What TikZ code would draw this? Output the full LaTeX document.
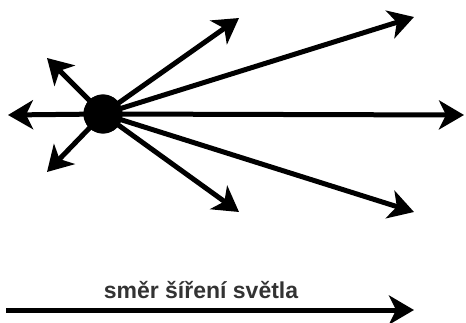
\documentclass[tikz,border=0pt]{standalone}
\usepackage{fontspec}
\setmainfont{Liberation Sans}
\usetikzlibrary{arrows.meta}
\definecolor{txtgray}{HTML}{333333}
\begin{document}
\begin{tikzpicture}[x=1pt,y=1pt,
  ray/.style={line width=5pt,-{Stealth[length=25pt,width=29pt,inset=7pt]}},
  dot/.style={circle,fill=black,inner sep=0pt,minimum size=39pt}]
\useasboundingbox (0,0) rectangle (466,322);
\node[dot] (c) at (103,208) {};
\coordinate (tL) at (8,207);
\coordinate (tUL) at (47,264);
\coordinate (tDL) at (47,150);
\coordinate (tUS) at (239,304);
\coordinate (tDS) at (239,110);
\coordinate (tUR) at (414,305);
\coordinate (tR) at (464,207);
\coordinate (tDR) at (414,110);
\foreach \t in {tL,tUL,tDL,tUS,tDS,tUR,tR,tDR}
  \draw[ray] (c.center) -- (\t);
\node[dot] at (c) {};
\coordinate (bS) at (6,12);
\coordinate (bE) at (414,12);
\draw[ray] (bS) -- (bE);
\node[anchor=base,inner sep=0pt,text=txtgray,font=\bfseries\fontsize{23}{27}\selectfont] (lbl) at (201,24) {směr šíření světla};
\end{tikzpicture}
\end{document}
